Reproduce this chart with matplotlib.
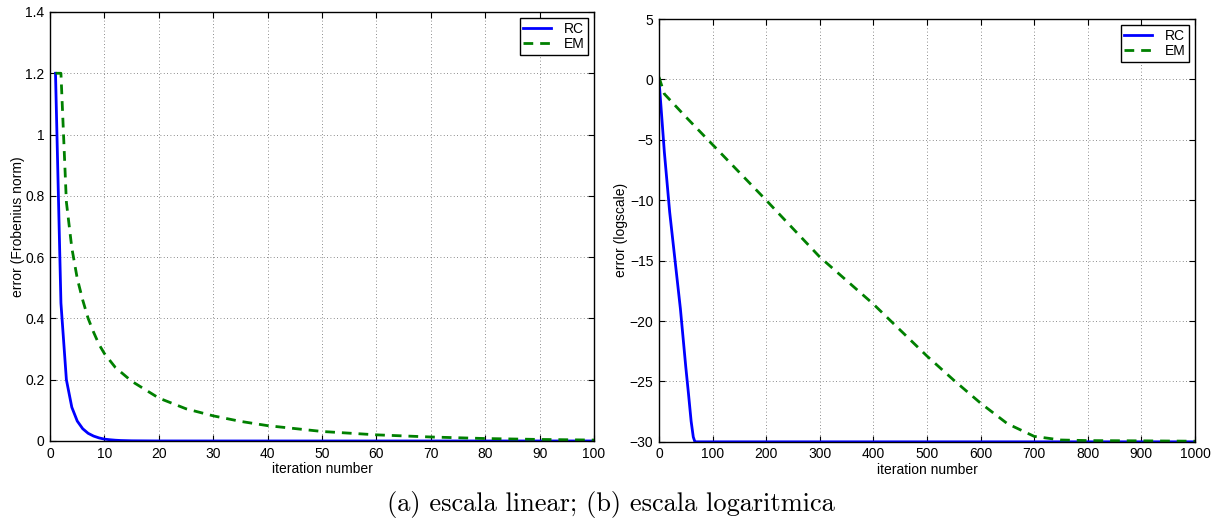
import matplotlib.pyplot as plt

# (a) linear scale, Frobenius-norm error
lin_rc_x = [1, 2, 3, 4, 5, 6, 7, 8, 9, 10, 11, 12, 13, 15, 20, 30, 40, 50, 60, 70, 80, 90, 100]
lin_rc_y = [1.2, 0.45, 0.2, 0.11, 0.065, 0.04, 0.025, 0.016, 0.01, 0.006, 0.004, 0.0025, 0.0015,
            0.0006, 0.0001, 0, 0, 0, 0, 0, 0, 0, 0]
lin_em_x = [1, 2, 3, 4, 5, 6, 7, 8, 9, 10, 12, 15, 20, 25, 30, 35, 40, 50, 60, 70, 80, 90, 100]
lin_em_y = [1.2, 1.2, 0.78, 0.63, 0.53, 0.46, 0.4, 0.355, 0.315, 0.285, 0.24, 0.195, 0.14, 0.105,
            0.082, 0.064, 0.05, 0.031, 0.02, 0.013, 0.008, 0.005, 0.003]

# (b) log scale
log_rc_x = [0, 5, 10, 20, 30, 40, 50, 55, 60, 64, 67, 70, 100, 1000]
log_rc_y = [0, -3, -6, -11, -15, -19, -23.8, -26, -28.3, -29.6, -30, -30, -30, -30]
log_em_x = [0, 10, 50, 100, 200, 300, 400, 500, 550, 600, 650, 700, 750, 800, 900, 1000]
log_em_y = [0.2, -1.2, -3.1, -5.4, -10, -14.7, -18.6, -22.9, -24.9, -26.8, -28.5, -29.55,
            -29.85, -29.9, -29.92, -29.95]

plt.rcParams['font.family'] = ['Liberation Sans', 'DejaVu Sans']
plt.rcParams['font.size'] = 10

fig = plt.figure(figsize=(12.21, 5.21), dpi=100)
ax1 = fig.add_axes([0.041, 0.1536, 0.4455, 0.8234])
ax2 = fig.add_axes([0.5397, 0.152, 0.4390, 0.8115])

blue = '#0000ff'
green = '#008000'

ax1.plot(lin_rc_x, lin_rc_y, color=blue, lw=2.0, label='RC')
ax1.plot(lin_em_x, lin_em_y, color=green, lw=2.0, ls=(0, (3.5, 2.5)), label='EM')
ax1.set_xlim(0, 100)
ax1.set_ylim(0, 1.4)
ax1.set_xticks(range(0, 101, 10))
ax1.set_yticks([0, 0.2, 0.4, 0.6, 0.8, 1.0, 1.2, 1.4])
ax1.set_yticklabels(['0', '0.2', '0.4', '0.6', '0.8', '1', '1.2', '1.4'])
ax1.set_ylabel('error (Frobenius norm)', fontsize=10, labelpad=0)

ax2.plot(log_rc_x, log_rc_y, color=blue, lw=2.0, label='RC')
ax2.plot(log_em_x, log_em_y, color=green, lw=2.0, ls=(0, (3.5, 2.5)), label='EM')
ax2.set_xlim(0, 1000)
ax2.set_ylim(-30, 5)
ax2.set_xticks(range(0, 1001, 100))
ax2.set_yticks(range(-30, 6, 5))
ax2.set_ylabel('error (logscale)', fontsize=10, labelpad=1)

for ax in (ax1, ax2):
    ax.set_xlabel('iteration number', fontsize=10, labelpad=1)
    ax.grid(True, color='black', ls=(0, (1, 3)), lw=0.6, alpha=0.6)
    ax.tick_params(direction='in', top=True, right=True, length=4, width=0.8, pad=4,
                   labelsize=10)
    for s in ax.spines.values():
        s.set_linewidth(1.0)
    leg = ax.legend(loc='upper right', fancybox=False, edgecolor='black', framealpha=1,
                    fontsize=10, handlelength=2.0, handletextpad=0.9, borderpad=0.25,
                    labelspacing=0.1, borderaxespad=0.45)
    leg.get_frame().set_linewidth(1.0)

fig.text(0.5005, 0.032, '(a) escala linear; (b) escala logaritmica', ha='center', va='center',
         family='cmr10', fontsize=19)

fig.savefig('out.png', dpi=100)
